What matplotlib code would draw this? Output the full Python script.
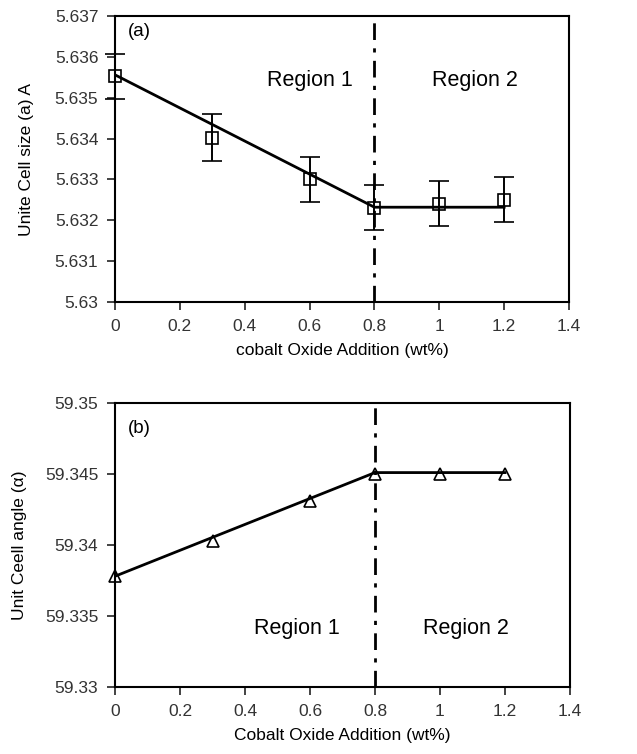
import numpy as np
import matplotlib.pyplot as plt

plt.rcParams['font.family'] = ['Liberation Sans', 'DejaVu Sans']

x_pts = [0, 0.3, 0.6, 0.8, 1.0, 1.2]

# (a) lattice parameter
a_vals = [5.63553, 5.63402, 5.63300, 5.63231, 5.63241, 5.63250]
a_err = [0.00055, 0.00057, 0.00056, 0.00055, 0.00055, 0.00055]
a_fit_x = [0, 0.8, 1.2]
a_fit_y = [5.63556, 5.63232, 5.63232]

# (b) cell angle
b_vals = [59.3378, 59.3403, 59.3431, 59.3450, 59.3450, 59.3450]
b_fit_x = [0, 0.8, 1.2]
b_fit_y = [59.3378, 59.3451, 59.3451]

fig = plt.figure(figsize=(6.37, 7.54), dpi=100)
W, H = 637, 754
ax1 = fig.add_axes([115 / W, 1 - 302 / H, (569 - 115) / W, (302 - 16) / H])
ax2 = fig.add_axes([115 / W, 1 - 687 / H, (570 - 115) / W, (687 - 403) / H])

tick_fs = 12.5
lab_fs = 12.5

# top panel
ax1.plot(a_fit_x, a_fit_y, color='black', lw=2, zorder=3)
ax1.errorbar(x_pts, a_vals, yerr=a_err, fmt='s', mfc='none', mec='black',
             ms=8, mew=1.2, ecolor='black', elinewidth=1.4, capsize=7,
             capthick=1.4, zorder=4, clip_on=False)
ax1.axvline(0.8, color='black', lw=2, ls=(0, (6, 3, 1.5, 3)), zorder=2)
ax1.set_xlim(0, 1.4)
ax1.set_ylim(5.630, 5.637)
ax1.set_yticks(np.arange(5.630, 5.6371, 0.001))
ax1.set_yticklabels(['5.63', '5.631', '5.632', '5.633', '5.634', '5.635', '5.636', '5.637'])
ax1.set_xticks(np.arange(0, 1.41, 0.2))
ax1.set_xticklabels(['0', '0.2', '0.4', '0.6', '0.8', '1', '1.2', '1.4'])
ax1.set_xlabel('cobalt Oxide Addition (wt%)', fontsize=lab_fs, labelpad=7)
ax1.set_ylabel('Unite Cell size (a) A', fontsize=lab_fs, labelpad=15)
ax1.text(0.04, 5.63662, '(a)', fontsize=13.5, va='center')
ax1.text(0.6, 5.63543, 'Region 1', fontsize=15.5, ha='center', va='center')
ax1.text(1.11, 5.63543, 'Region 2', fontsize=15.5, ha='center', va='center')

# bottom panel
ax2.plot(b_fit_x, b_fit_y, color='black', lw=2, zorder=3)
ax2.plot(x_pts, b_vals, ls='none', marker='^', mfc='none', mec='black',
         ms=9, mew=1.2, zorder=4, clip_on=False)
ax2.axvline(0.8, color='black', lw=2, ls=(0, (6, 3, 1.5, 3)), zorder=2)
ax2.set_xlim(0, 1.4)
ax2.set_ylim(59.33, 59.35)
ax2.set_yticks([59.33, 59.335, 59.34, 59.345, 59.35])
ax2.set_yticklabels(['59.33', '59.335', '59.34', '59.345', '59.35'])
ax2.set_xticks(np.arange(0, 1.41, 0.2))
ax2.set_xticklabels(['0', '0.2', '0.4', '0.6', '0.8', '1', '1.2', '1.4'])
ax2.set_xlabel('Cobalt Oxide Addition (wt%)', fontsize=lab_fs, labelpad=7)
ax2.set_ylabel('Unit Ceell angle (\u03b1)', fontsize=lab_fs, labelpad=13)
ax2.text(0.04, 59.3482, '(b)', fontsize=13.5, va='center')
ax2.text(0.56, 59.3341, 'Region 1', fontsize=15.5, ha='center', va='center')
ax2.text(1.08, 59.3341, 'Region 2', fontsize=15.5, ha='center', va='center')

for ax in (ax1, ax2):
    for s in ax.spines.values():
        s.set_linewidth(1.5)
    ax.tick_params(direction='out', length=6, width=1.2, labelsize=tick_fs,
                   colors='#222222', labelcolor='#333333', pad=6)

fig.savefig('out.png', dpi=100)
